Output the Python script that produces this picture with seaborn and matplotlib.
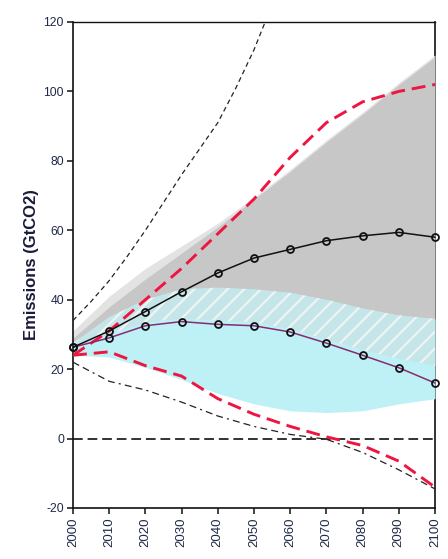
import numpy as np
import pandas as pd
import matplotlib
matplotlib.use("Agg")
import matplotlib.pyplot as plt
import seaborn as sns

# ---------------- data ----------------
years = [2000, 2010, 2020, 2030, 2040, 2050, 2060, 2070, 2080, 2090, 2100]

black_markers = [26.3, 31.0, 36.6, 42.3, 47.7, 52.0, 54.5, 57.0, 58.4, 59.4, 58.0]
purple_markers = [26.3, 29.0, 32.5, 33.7, 32.9, 32.5, 30.7, 27.5, 24.0, 20.4, 16.0]
red_upper = [24.0, 31.0, 40.0, 49.0, 59.0, 69.0, 81.0, 91.0, 97.0, 100.0, 102.0]
red_lower = [24.0, 25.0, 21.0, 18.0, 11.5, 7.0, 3.5, 0.5, -2.0, -6.5, -14.0]
black_lower = [22.0, 16.5, 14.0, 10.5, 6.5, 3.5, 1.2, -0.2, -4.0, -9.0, -14.5]
upper_years = [2000, 2005, 2010, 2015, 2020, 2025, 2030, 2035, 2040, 2045, 2050, 2055]
black_upper = [34.0, 39.5, 45.5, 52.5, 60.0, 68.0, 76.0, 83.5, 91.0, 101.0, 112.0, 125.0]
zero_line = [0.0] * len(years)

gray_upper = [29.0, 38.0, 46.0, 53.5, 61.0, 69.0, 77.0, 85.5, 93.5, 102.0, 110.0]
light_upper = [31.0, 41.0, 49.0, 55.5, 62.0, 69.5, 77.5, 86.0, 94.0, 102.5, 110.5]
hatch_top = [27.5, 35.0, 40.0, 43.0, 43.5, 43.0, 42.0, 40.0, 37.5, 35.5, 34.5]
hatch_low = [26.5, 30.0, 33.5, 34.5, 34.0, 33.5, 31.5, 28.5, 25.5, 23.0, 21.0]
cyan_low = [24.0, 23.5, 20.5, 17.0, 13.0, 10.0, 8.0, 7.5, 8.0, 10.0, 11.5]

yticks = [-20, 0, 20, 40, 60, 80, 100, 120]
xticks = years

# ---------------- style ----------------
sns.set_theme(style="ticks")
plt.rcParams["font.family"] = ["Liberation Sans", "DejaVu Sans"]
plt.rcParams["lines.scale_dashes"] = False
plt.rcParams["hatch.linewidth"] = 1.6

GRAY = "#c7c7c7"
LGRAY = "#e3e3e3"
CYAN = "#bdf1f6"
HCYAN = "#c4e6e8"
HLINE = "#eef4f4"
RED = "#ee1540"
PURPLE = "#8a2a70"
TXT = "#1f2a48"

fig = plt.figure(figsize=(4.48, 5.59), dpi=100)
ax = fig.add_axes([73 / 448, 1 - 508 / 559, (435 - 73) / 448, (508 - 22) / 559])

# ---------------- fills ----------------
ax.fill_between(years, gray_upper, light_upper, color=LGRAY, lw=0, zorder=1)
ax.fill_between(years, hatch_low, gray_upper, color=GRAY, lw=0, zorder=1.1)
ax.fill_between(years, cyan_low, hatch_top, color=CYAN, lw=0, zorder=1.2)
ax.fill_between(years, hatch_low, hatch_top, facecolor=HCYAN, edgecolor=HLINE,
                hatch="//", lw=0, zorder=1.3)

# ---------------- lines ----------------
df = pd.DataFrame({"year": years, "black": black_markers, "purple": purple_markers,
                   "red_up": red_upper, "red_lo": red_lower, "black_lo": black_lower,
                   "zero": zero_line})
dfu = pd.DataFrame({"year": upper_years, "black_up": black_upper})

def line(data, col, color, lw, dashes=None, marker=None, z=3):
    n0 = len(ax.lines)
    sns.lineplot(data=data, x="year", y=col, ax=ax, color=color, linewidth=lw,
                 marker=marker, markersize=5 if marker else None,
                 markerfacecolor="none" if marker else None,
                 markeredgecolor="#111111" if marker else None,
                 markeredgewidth=1.3 if marker else None, zorder=z, legend=False)
    ln = ax.lines[n0]
    if dashes is not None:
        ln.set_dashes(dashes)
    if marker:
        ln.set_clip_on(False)
    return ln

line(df, "zero", "#222222", 1.3, dashes=(7, 3.5), z=2.5)
line(dfu, "black_up", "#222222", 0.9, dashes=(3.5, 2.5))
line(df, "black_lo", "#222222", 0.9, dashes=(5, 3, 5, 3, 1.5, 3))
line(df, "red_up", RED, 2.1, dashes=(10, 5), z=3.2)
line(df, "red_lo", RED, 2.1, dashes=(10, 5), z=3.2)
line(df, "purple", PURPLE, 1.1, marker="o", z=4)
line(df, "black", "#111111", 1.1, marker="o", z=4.1)

# ---------------- axes ----------------
ax.set_xlim(2000, 2100)
ax.set_ylim(-20, 120)
ax.set_xticks(xticks)
ax.set_yticks(yticks)
ax.set_xticklabels([str(y) for y in xticks], rotation=90, fontsize=9.5, color=TXT)
ax.set_yticklabels([str(v) for v in yticks], fontsize=8.7, color=TXT)
ax.tick_params(axis="both", direction="out", length=4.5, width=1.1, color="#111111", pad=2)
ax.set_xlabel("")
ax.set_ylabel("Emissions (GtCO2)", fontsize=12, fontweight="bold", color="#1a1a3a")
ax.yaxis.set_label_coords(-0.094, 0.5)

for s in ["left", "bottom", "top", "right"]:
    ax.spines[s].set_visible(True)
    ax.spines[s].set_linewidth(1.2)
    ax.spines[s].set_color("#111111")
ax.spines["right"].set_zorder(0.5)
ax.spines["top"].set_linewidth(1.0)
ax.set_facecolor("white")
fig.patch.set_facecolor("white")

fig.savefig("out.png", dpi=100, facecolor="white")
